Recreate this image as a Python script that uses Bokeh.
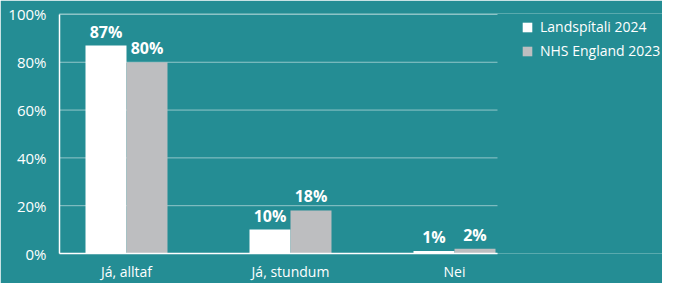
from bokeh.plotting import figure
from bokeh.models import (ColumnDataSource, FixedTicker, PrintfTickFormatter, Legend, LegendItem, Range1d)
from bokeh.core.properties import value
from bokeh.embed import file_html
from bokeh.resources import INLINE

categories = ["Já, alltaf", "Já, stundum", "Nei"]
series_names = ["Landspítali 2024", "NHS England 2023"]
landspitali = [87, 10, 1]
nhs = [80, 18, 2]
y_ticks = [0, 20, 40, 60, 80, 100]

BG = "#248d94"
FONT = "Open Sans"
W, H = 662, 283
ML, MR, MT, MB = 59, 0, 13, 19
UNIT = 164.0                      # px per category step
X0 = -0.4085                      # left edge of plotting area (data units)
GRID_END = 2.2622                 # right end of grid / axis lines

frame_w = W - ML - MR
frame_h = H - MT - MB
x_end = X0 + frame_w / UNIT

p = figure(width=W, height=H, output_backend="svg", toolbar_location=None,
           x_range=Range1d(X0, x_end), y_range=Range1d(0, 100.4),
           min_border_left=ML, min_border_right=MR, min_border_top=MT, min_border_bottom=MB)
p.background_fill_color = BG
p.border_fill_color = BG
p.outline_line_color = None

# horizontal grid lines (limited to the plot region)
p.segment(x0=[X0] * len(y_ticks), x1=[GRID_END] * len(y_ticks), y0=y_ticks, y1=y_ticks,
          line_color="white", line_alpha=0.5, line_width=1)

idx = list(range(len(categories)))
bw = 0.25
src1 = ColumnDataSource(dict(x=[i - bw / 2 for i in idx], top=landspitali,
                             lab=[f"{v}%" for v in landspitali]))
src2 = ColumnDataSource(dict(x=[i + bw / 2 for i in idx], top=nhs,
                             lab=[f"{v}%" for v in nhs]))
r1 = p.vbar(x="x", top="top", width=bw, source=src1, fill_color="white", line_color=None)
r2 = p.vbar(x="x", top="top", width=bw, source=src2, fill_color="#bdbec0", line_color=None)

for s in (src1, src2):
    p.text(x="x", y="top", text="lab", source=s, text_font=value(FONT), text_font_style="bold",
           text_font_size="16px", text_color="white", text_align="center",
           text_baseline="bottom", y_offset=-3)

p.xgrid.grid_line_color = None
p.ygrid.grid_line_color = None

p.yaxis.ticker = FixedTicker(ticks=y_ticks)
p.yaxis.formatter = PrintfTickFormatter(format="%d%%")
p.xaxis.ticker = FixedTicker(ticks=idx)
p.xaxis.major_label_overrides = {i: c for i, c in zip(idx, categories)}
p.xaxis.bounds = (X0, GRID_END)
p.yaxis.bounds = (0, 100)
for ax in (p.xaxis, p.yaxis):
    ax.axis_line_color = "white"
    ax.axis_line_width = 1.5
    ax.major_tick_line_color = None
    ax.minor_tick_line_color = None
    ax.major_label_text_color = "white"
    ax.major_label_text_font = FONT
p.yaxis.major_label_text_font_size = "15px"
p.xaxis.major_label_text_font_size = "14px"
p.yaxis.major_label_standoff = 7
p.xaxis.major_label_standoff = 2

legend = Legend(items=[LegendItem(label=series_names[0], renderers=[r1]),
                       LegendItem(label=series_names[1], renderers=[r2])],
                orientation="vertical",
                background_fill_alpha=0, border_line_color=None,
                label_text_color="white", label_text_font=FONT, label_text_font_size="14px",
                glyph_width=12, glyph_height=12, label_height=12, spacing=5,
                padding=0, margin=0, label_standoff=7,
                location=(462, frame_h - 58))
p.add_layout(legend, "center")

open("out.html", "w").write(file_html(p, INLINE))
